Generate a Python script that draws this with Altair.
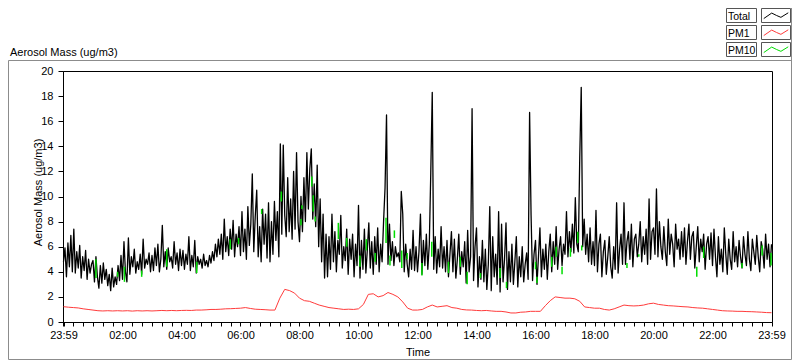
import altair as alt
import pandas as pd

# ---- data ----
# Total aerosol mass, one value every 3 minutes from 23:59 (0) to 23:59 (1440)
total = [
    4.8, 5.9, 3.6, 6.3, 4.4, 6.9, 4.0, 7.4, 3.9, 5.6, 4.3, 6.1, 3.5, 5.2, 4.1, 5.7, 3.4, 5.0, 3.9, 4.6,
    4.9, 3.2, 5.2, 3.6, 2.7, 4.5, 3.1, 4.7, 3.4, 4.2, 2.9, 3.8, 2.5, 4.3, 2.8, 3.6, 3.0, 4.5, 3.3, 5.3,
    3.4, 6.4, 4.0, 3.2, 6.7, 3.8, 5.2, 4.4, 5.8, 3.9, 4.8, 4.2, 5.4, 3.8, 6.6, 4.3, 5.0, 4.6, 5.5, 4.0,
    5.3, 4.1, 5.9, 4.5, 6.2, 4.0, 5.0, 7.7, 4.4, 5.6, 4.2, 5.9, 4.8, 5.2, 4.3, 6.4, 4.6, 5.5, 4.1, 5.8,
    4.5, 5.7, 4.2, 5.4, 4.6, 6.8, 4.1, 5.3, 4.4, 6.5, 3.9, 5.2, 4.6, 5.0, 4.3, 5.4, 4.5, 4.9, 4.4, 5.3,
    4.7, 5.6, 4.9, 6.2, 5.2, 6.6, 5.4, 7.0, 5.0, 8.2, 5.6, 6.8, 5.3, 7.4, 5.8, 8.1, 5.2, 7.0, 6.0, 7.6,
    5.3, 8.8, 5.6, 7.4, 5.0, 9.2, 6.1, 7.8, 11.8, 5.6, 8.4, 10.5, 5.2, 7.6, 4.8, 9.0, 6.2, 8.6, 5.1, 9.5,
    4.8, 8.0, 5.4, 9.6, 6.5, 8.8, 5.2, 14.2, 7.0, 14.1, 8.5, 6.8, 11.5, 7.2, 9.8, 6.6, 12.0, 7.4, 13.5, 8.0,
    6.4, 10.0, 7.2, 11.5, 8.0, 13.5, 9.0, 12.2, 13.8, 8.2, 11.0, 7.6, 12.5, 6.0, 9.8, 4.8, 8.6, 3.5, 7.0, 3.6,
    6.8, 4.2, 8.6, 4.8, 7.2, 4.0, 6.5, 5.4, 8.5, 4.3, 6.0, 4.9, 7.4, 3.8, 6.6, 5.0, 7.0, 3.6, 6.2, 4.5,
    9.3, 3.5, 6.5, 4.2, 7.4, 3.9, 5.8, 7.9, 4.3, 6.4, 3.8, 6.8, 4.6, 7.5, 4.0, 6.2, 4.8, 8.0, 10.7, 16.5,
    4.6, 7.8, 4.9, 6.4, 4.5, 6.0, 5.2, 5.5, 4.8, 10.4, 8.6, 4.0, 6.2, 4.6, 3.6, 5.8, 4.2, 7.3, 4.1, 6.0,
    4.0, 5.6, 8.6, 3.8, 6.5, 4.5, 7.0, 4.2, 6.2, 11.9, 18.3, 4.2, 6.8, 3.9, 5.8, 4.4, 7.6, 4.3, 6.0, 4.0,
    6.5, 3.6, 5.4, 7.2, 4.0, 6.6, 3.5, 5.0, 7.0, 3.8, 5.6, 4.4, 6.4, 3.1, 7.3, 4.0, 5.2, 17.0, 3.3, 6.0,
    7.5, 2.8, 5.2, 3.4, 6.5, 3.2, 5.8, 2.6, 4.6, 9.2, 2.5, 6.8, 3.6, 5.4, 3.0, 8.8, 2.4, 7.8, 3.2, 5.0,
    7.9, 2.6, 5.6, 3.2, 6.2, 3.0, 4.8, 6.8, 2.8, 5.2, 3.6, 6.0, 3.2, 4.6, 5.5, 3.4, 16.7, 8.5, 3.3, 5.4,
    6.5, 3.0, 5.2, 7.5, 3.6, 5.8, 4.2, 6.2, 3.4, 5.6, 7.0, 4.0, 6.4, 4.6, 7.6, 4.2, 5.8, 6.8, 4.5, 6.2,
    5.4, 8.8, 5.2, 7.2, 5.6, 7.8, 5.5, 9.9, 6.2, 5.6, 13.1, 18.7, 6.0, 8.2, 5.4, 7.0, 4.8, 7.5, 4.6, 6.4,
    4.5, 8.9, 4.0, 6.2, 7.0, 3.6, 5.6, 6.5, 3.8, 5.2, 6.8, 4.4, 3.5, 6.0, 4.2, 9.5, 3.9, 5.8, 7.0, 4.6,
    9.5, 4.6, 6.4, 7.2, 5.0, 7.8, 4.4, 6.6, 7.0, 5.2, 6.2, 8.0, 4.8, 6.8, 5.4, 7.4, 4.6, 9.8, 5.0, 7.2,
    7.5, 5.4, 10.6, 5.2, 8.0, 6.0, 5.0, 7.6, 5.6, 4.5, 8.2, 5.4, 7.0, 6.2, 4.4, 7.8, 5.8, 6.6, 5.0, 7.2,
    5.2, 7.5, 4.6, 6.4, 7.8, 5.0, 6.8, 7.2, 4.3, 6.0, 7.6, 4.8, 6.6, 5.6, 7.0, 4.2, 6.2, 6.8, 5.0, 7.1,
    4.5, 7.4, 5.2, 3.6, 6.8, 4.6, 5.8, 4.0, 7.5, 5.4, 3.8, 6.6, 5.0, 4.2, 7.2, 4.8, 6.0, 4.4, 6.5, 5.2,
    4.3, 6.8, 5.4, 4.5, 7.2, 5.0, 4.1, 6.6, 5.6, 4.6, 6.9, 5.2, 4.0, 6.4, 5.8, 4.3, 7.0, 5.0, 6.2, 4.4,
    6.2,
]
total_minutes = [3 * i for i in range(len(total))]

# PM1, one value every 10 minutes
pm1 = [
    1.22, 1.18, 1.15, 1.12, 1.05, 1.00, 0.95, 0.90, 0.88, 0.90, 0.88, 0.90,
    0.88, 0.90, 0.87, 0.90, 0.88, 0.90, 0.88, 0.90, 0.92, 0.90, 0.92, 0.90,
    0.92, 0.93, 0.92, 0.95, 0.95, 0.97, 1.00, 1.00, 1.02, 1.05, 1.06, 1.08,
    1.10, 1.15, 1.08, 1.02, 1.00, 0.98, 0.95, 0.95, 1.90, 2.60, 2.50, 2.30,
    1.90, 1.70, 1.65, 1.50, 1.35, 1.25, 1.15, 1.10, 1.05, 1.00, 1.02, 1.00,
    1.05, 1.40, 2.20, 2.25, 2.00, 2.10, 2.35, 2.20, 2.00, 1.60, 1.10, 0.95,
    0.95, 1.00, 1.20, 1.35, 1.20, 1.25, 1.30, 1.15, 1.10, 1.00, 0.96, 0.95,
    0.92, 0.90, 0.92, 0.88, 0.85, 0.85, 0.80, 0.72, 0.72, 0.78, 0.80, 0.85,
    0.85, 0.85, 1.30, 1.70, 2.00, 1.95, 1.90, 1.90, 1.85, 1.65, 1.20, 1.15,
    1.10, 1.10, 1.00, 0.95, 1.05, 1.20, 1.35, 1.30, 1.28, 1.30, 1.35, 1.45,
    1.50, 1.40, 1.35, 1.30, 1.28, 1.25, 1.22, 1.20, 1.15, 1.12, 1.10, 1.05,
    1.00, 0.95, 0.90, 0.88, 0.87, 0.85, 0.85, 0.83, 0.82, 0.80, 0.78, 0.75,
    0.74,
]
pm1_minutes = [10 * i for i in range(len(pm1))]

# PM10: places where the green trace shows beside the black one
pm10_minutes = [66, 110, 124, 159, 210, 271, 339, 356, 403, 443, 483, 485, 505, 508,
                512, 559, 576, 603, 616, 634, 656, 664, 673, 688, 699, 729, 749, 783,
                807, 821, 848, 888, 901, 960, 963, 993, 1002, 1014, 1031, 1046, 1054,
                1146, 1170, 1288, 1302, 1380, 1421, 1439]
pm10_high = [5.0, 4.0, 4.4, 4.1, 5.8, 4.8, 6.6, 6.7, 9.0, 10.4, 8.2, 9.3, 11.6, 10.1,
             8.4, 7.9, 6.7, 5.3, 6.6, 5.5, 8.3, 5.3, 7.3, 5.7, 5.5, 4.7, 6.4, 4.8,
             5.2, 4.0, 3.9, 4.3, 3.2, 4.8, 3.6, 5.2, 6.0, 4.4, 5.9, 7.2, 6.1,
             4.7, 5.4, 4.4, 6.0, 4.7, 6.1, 5.5]
pm10_low = [3.5, 3.6, 3.2, 3.6, 4.4, 3.9, 5.8, 6.2, 8.6, 9.6, 7.7, 9.0, 10.8, 8.8,
            8.0, 6.6, 6.0, 4.4, 5.7, 4.8, 6.3, 4.5, 6.7, 4.3, 5.0, 3.7, 5.2, 3.9,
            4.4, 3.0, 3.5, 3.5, 2.7, 4.2, 3.1, 4.4, 5.2, 3.8, 5.2, 6.3, 5.7,
            4.3, 5.2, 3.6, 5.1, 4.3, 5.3, 4.5]

x_ticks = [2] + list(range(0, 1441, 20))
y_ticks = list(range(0, 21, 2))
legend_names = ["Total", "PM1", "PM10"]
legend_colors = ["#000000", "#ff3b3b", "#00dd00"]

FONT = "Liberation Sans"
xscale = alt.Scale(domain=[-1, 1441], nice=False, zero=False)
yscale = alt.Scale(domain=[0, 20], nice=False)

total_df = pd.DataFrame({"t": total_minutes, "v": total})
pm1_df = pd.DataFrame({"t": pm1_minutes, "v": pm1})
pm10_df = pd.DataFrame({"t": pm10_minutes, "hi": pm10_high, "lo": pm10_low})

label_expr = ("datum.value == 0 || datum.value == 1440 ? '23:59' : "
              "(datum.value % 120 == 0 ? (datum.value < 600 ? '0' : '') + (datum.value / 60) + ':00' : '')")

x_axis = alt.Axis(values=x_ticks, labelExpr=label_expr, tickSize=4, labelPadding=3,
                  domainColor="black", tickColor="black", labelColor="black",
                  labelFontSize=11, labelFont=FONT, labelOverlap=False, labelFlush=False,
                  title="Time", titleFont=FONT, titleFontSize=11, titleFontWeight="normal",
                  titleColor="black", titleBaseline="alphabetic", titleY=33, grid=False)
y_axis = alt.Axis(values=y_ticks, tickSize=5, labelPadding=5, domainColor="black",
                  tickColor="black", labelColor="black", labelFontSize=11, labelFont=FONT,
                  title="Aerosol Mass (ug/m3)", titleFont=FONT, titleFontSize=11,
                  titleFontWeight="normal", titleColor="black", titleX=-22, titleY=121,
                  titleBaseline="alphabetic", grid=False)

total_line = alt.Chart(total_df).mark_line(color="black", strokeWidth=1.3,
                                           strokeJoin="round").encode(
    x=alt.X("t:Q", scale=xscale, axis=x_axis),
    y=alt.Y("v:Q", scale=yscale, axis=y_axis),
)
pm1_line = alt.Chart(pm1_df).mark_line(color=legend_colors[1], strokeWidth=1).encode(
    x=alt.X("t:Q", scale=xscale, axis=x_axis),
    y=alt.Y("v:Q", scale=yscale, axis=y_axis),
)
pm10_rules = alt.Chart(pm10_df).mark_rule(color=legend_colors[2], strokeWidth=1.5).encode(
    x=alt.X("t:Q", scale=xscale, axis=x_axis),
    y=alt.Y("hi:Q", scale=yscale, axis=y_axis),
    y2="lo:Q",
)

one = alt.Data(values=[{"a": 1}])


def box(x, x2, y, y2, stroke, fill_opacity=1.0):
    return alt.Chart(one).mark_rect(fill="white", fillOpacity=fill_opacity, stroke=stroke,
                                    strokeWidth=1).encode(
        x=alt.value(x), x2=alt.value(x2), y=alt.value(y), y2=alt.value(y2))


def label(txt, x, y, size=11):
    return alt.Chart(one).mark_text(text=txt, align="left", baseline="alphabetic",
                                    font=FONT, fontSize=size, color="black").encode(
        x=alt.value(x), y=alt.value(y))


deco = []
# outer frame
deco.append(box(-54.5, 728.5, -10.5, 288.5, "#8c8c8c", fill_opacity=0))
deco.append(alt.Chart(one).mark_rule(color="#8c8c8c").encode(
    x=alt.value(728.5), y=alt.value(-63), y2=alt.value(-10)))
deco.append(label("Aerosol Mass (ug/m3)", -53, -15))

zig = "M-1,0.25L-0.35,-0.2L0.05,0L0.4,0.15L1,-0.22"
tops = [-62.5, -45.5, -28.5]
for name, col, top in zip(legend_names, legend_colors, tops):
    deco.append(box(663.5, 693.5, top, top + 14, "#555555"))
    deco.append(box(698.5, 727.5, top, top + 14, "#555555"))
    deco.append(label(name, 665, top + 11.5, size=10.5))
    deco.append(alt.Chart(one).mark_point(shape=zig, size=600, filled=False, color=col,
                                          strokeWidth=1, opacity=1).encode(
        x=alt.value(713), y=alt.value(top + 7)))

chart = alt.layer(total_line, pm1_line, pm10_rules, *deco).properties(
    width=709, height=251,
    autosize=alt.AutoSizeParams(type="none"),
    padding={"left": 55, "top": 63, "right": 20, "bottom": 39},
).configure_view(stroke="black", strokeWidth=1)

chart.save("out.html", embed_options={"renderer": "svg", "actions": False})
